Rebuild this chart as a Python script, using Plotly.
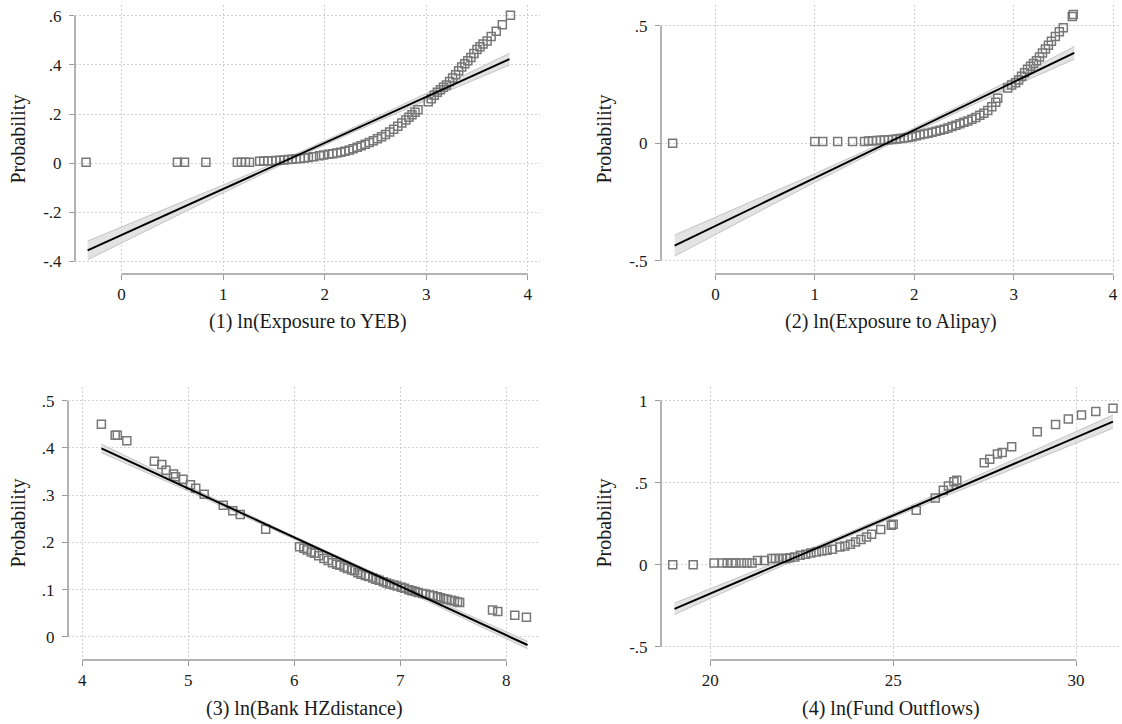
import plotly.graph_objects as go

W, H = 1122, 724

# ---------------- data ----------------
# Panel 1: ln(Exposure to YEB)
p1_x = [-0.35, 0.55, 0.62, 0.83, 1.14, 1.18, 1.22, 1.26, 1.36, 1.40, 1.44, 1.48, 1.52, 1.56, 1.60, 1.64,
        1.68, 1.72, 1.76, 1.80, 1.84, 1.89, 1.95, 1.99, 2.04, 2.08, 2.12, 2.16, 2.20, 2.24, 2.28, 2.32,
        2.36, 2.40, 2.44, 2.48, 2.52, 2.56, 2.60, 2.64, 2.68, 2.72, 2.76, 2.80, 2.83, 2.86, 2.89, 2.92,
        3.02, 3.05, 3.08, 3.11, 3.14, 3.17, 3.20, 3.23, 3.26, 3.29, 3.32, 3.35, 3.38, 3.41, 3.44, 3.47,
        3.50, 3.53, 3.56, 3.60, 3.64, 3.69, 3.75, 3.83]
p1_y = [0.004, 0.004, 0.004, 0.004, 0.004, 0.004, 0.004, 0.004, 0.008, 0.009, 0.010, 0.010, 0.011, 0.012,
        0.013, 0.015, 0.016, 0.018, 0.019, 0.021, 0.023, 0.026, 0.030, 0.033, 0.036, 0.038, 0.041, 0.044,
        0.048, 0.053, 0.059, 0.065, 0.071, 0.077, 0.084, 0.091, 0.099, 0.107, 0.117, 0.127, 0.138, 0.150,
        0.163, 0.176, 0.187, 0.197, 0.207, 0.217, 0.250, 0.262, 0.276, 0.288, 0.299, 0.309, 0.318, 0.332,
        0.346, 0.360, 0.376, 0.391, 0.404, 0.417, 0.430, 0.446, 0.462, 0.474, 0.485, 0.497, 0.515, 0.537,
        0.563, 0.602]
p1_fit_x = [-0.335, 3.82]
p1_fit_y = [-0.355, 0.423]
p1_ci_x = [-0.335, 0.5, 1.0, 1.7, 2.5, 3.2, 3.82]
p1_ci_lo = [-0.393, -0.223, -0.121, 0.018, 0.166, 0.291, 0.399]
p1_ci_hi = [-0.317, -0.175, -0.089, 0.034, 0.186, 0.323, 0.447]
p1_xticks = [0, 1, 2, 3, 4]
p1_yticks = [-0.4, -0.2, 0, 0.2, 0.4, 0.6]
p1_ylabels = ["-.4", "-.2", "0", ".2", ".4", ".6"]

# Panel 2: ln(Exposure to Alipay)
p2_x = [-0.43, 1.00, 1.08, 1.23, 1.38, 1.50, 1.54, 1.58, 1.62, 1.66, 1.70, 1.74, 1.78, 1.82, 1.86, 1.90,
        1.94, 1.98, 2.02, 2.06, 2.10, 2.14, 2.18, 2.22, 2.26, 2.30, 2.34, 2.38, 2.42, 2.46, 2.50, 2.54,
        2.58, 2.62, 2.66, 2.70, 2.74, 2.78, 2.82, 2.84, 2.94, 2.98, 3.02, 3.05, 3.08, 3.11, 3.14, 3.17,
        3.20, 3.23, 3.26, 3.29, 3.32, 3.35, 3.38, 3.42, 3.46, 3.50, 3.59, 3.60]
p2_y = [0.0, 0.007, 0.007, 0.007, 0.007, 0.008, 0.010, 0.011, 0.012, 0.013, 0.014, 0.015, 0.016, 0.018,
        0.020, 0.022, 0.025, 0.028, 0.032, 0.036, 0.039, 0.043, 0.047, 0.051, 0.055, 0.060, 0.065, 0.071,
        0.077, 0.083, 0.089, 0.095, 0.102, 0.110, 0.119, 0.128, 0.140, 0.155, 0.175, 0.192, 0.235, 0.248,
        0.258, 0.270, 0.285, 0.300, 0.315, 0.328, 0.340, 0.352, 0.368, 0.385, 0.402, 0.418, 0.435, 0.455,
        0.475, 0.492, 0.540, 0.548]
p2_fit_x = [-0.41, 3.61]
p2_fit_y = [-0.436, 0.385]
p2_ci_x = [-0.41, 0.5, 1.0, 1.8, 2.6, 3.2, 3.61]
p2_ci_lo = [-0.481, -0.278, -0.166, 0.006, 0.166, 0.281, 0.358]
p2_ci_hi = [-0.391, -0.222, -0.130, 0.024, 0.190, 0.321, 0.412]
p2_xticks = [0, 1, 2, 3, 4]
p2_yticks = [-0.5, 0, 0.5]
p2_ylabels = ["-.5", "0", ".5"]

# Panel 3: ln(Bank HZdistance)
p3_x = [4.18, 4.31, 4.33, 4.42, 4.68, 4.75, 4.79, 4.86, 4.88, 4.95, 5.02, 5.07, 5.15, 5.33, 5.42, 5.49,
        5.73, 6.05, 6.09, 6.12, 6.16, 6.19, 6.23, 6.28, 6.32, 6.36, 6.40, 6.43, 6.47, 6.50, 6.54, 6.57,
        6.60, 6.63, 6.67, 6.70, 6.74, 6.77, 6.80, 6.84, 6.87, 6.90, 6.94, 6.97, 7.01, 7.04, 7.08, 7.11,
        7.14, 7.17, 7.21, 7.24, 7.28, 7.31, 7.35, 7.38, 7.41, 7.44, 7.48, 7.51, 7.54, 7.56, 7.87, 7.92,
        8.08, 8.19]
p3_y = [0.450, 0.427, 0.427, 0.415, 0.372, 0.365, 0.353, 0.345, 0.339, 0.334, 0.322, 0.315, 0.302, 0.279,
        0.267, 0.259, 0.228, 0.191, 0.188, 0.184, 0.180, 0.177, 0.172, 0.166, 0.162, 0.157, 0.154, 0.152,
        0.148, 0.145, 0.142, 0.140, 0.136, 0.133, 0.130, 0.128, 0.125, 0.122, 0.120, 0.117, 0.114, 0.112,
        0.110, 0.108, 0.105, 0.103, 0.100, 0.098, 0.096, 0.094, 0.092, 0.091, 0.089, 0.087, 0.085, 0.083,
        0.081, 0.080, 0.078, 0.076, 0.074, 0.073, 0.057, 0.054, 0.046, 0.042]
p3_fit_x = [4.18, 8.20]
p3_fit_y = [0.399, -0.017]
p3_ci_x = [4.18, 5.0, 6.0, 7.0, 8.2]
p3_ci_lo = [0.390, 0.309, 0.207, 0.103, -0.025]
p3_ci_hi = [0.408, 0.319, 0.213, 0.111, -0.009]
p3_xticks = [4, 5, 6, 7, 8]
p3_yticks = [0, 0.1, 0.2, 0.3, 0.4, 0.5]
p3_ylabels = ["0", ".1", ".2", ".3", ".4", ".5"]

# Panel 4: ln(Fund Outflows)
p4_x = [18.97, 19.53, 20.10, 20.33, 20.46, 20.59, 20.70, 20.85, 21.00, 21.14, 21.29, 21.48, 21.68, 21.78,
        21.88, 21.97, 22.07, 22.17, 22.31, 22.46, 22.61, 22.75, 22.90, 23.05, 23.19, 23.34, 23.54, 23.68,
        23.83, 23.97, 24.12, 24.27, 24.41, 24.66, 24.95, 25.00, 25.63, 26.15, 26.37, 26.51, 26.66, 26.74,
        27.49, 27.64, 27.85, 27.98, 28.24, 28.94, 29.44, 29.79, 30.15, 30.54, 31.01]
p4_y = [0.0, 0.0, 0.010, 0.010, 0.010, 0.010, 0.010, 0.010, 0.010, 0.010, 0.026, 0.026, 0.037, 0.037,
        0.037, 0.037, 0.037, 0.043, 0.047, 0.057, 0.063, 0.071, 0.077, 0.084, 0.088, 0.094, 0.108, 0.114,
        0.124, 0.138, 0.153, 0.169, 0.185, 0.214, 0.240, 0.246, 0.332, 0.407, 0.454, 0.479, 0.505, 0.515,
        0.621, 0.642, 0.674, 0.684, 0.719, 0.811, 0.855, 0.888, 0.912, 0.933, 0.953]
p4_fit_x = [19.02, 31.01]
p4_fit_y = [-0.269, 0.872]
p4_ci_x = [19.02, 21.0, 23.0, 25.0, 27.0, 29.0, 31.01]
p4_ci_lo = [-0.304, -0.102, 0.098, 0.288, 0.470, 0.651, 0.832]
p4_ci_hi = [-0.234, -0.058, 0.122, 0.312, 0.510, 0.711, 0.912]
p4_xticks = [20, 25, 30]
p4_yticks = [-0.5, 0, 0.5, 1]
p4_ylabels = ["-.5", "0", ".5", "1"]

titles = ["(1) ln(Exposure to YEB)", "(2) ln(Exposure to Alipay)",
          "(3) ln(Bank HZdistance)", "(4) ln(Fund Outflows)"]

# ---------------- layout geometry (pixels) ----------------
panels = [
    dict(x=p1_x, y=p1_y, fx=p1_fit_x, fy=p1_fit_y, cx=p1_ci_x, lo=p1_ci_lo, hi=p1_ci_hi,
         xt=p1_xticks, yt=p1_yticks, yl=p1_ylabels, px=(75, 540, 5, 274),
         xr=[-0.459, 4.121], yr=[-0.451, 0.6435], ytitle_x=18),
    dict(x=p2_x, y=p2_y, fx=p2_fit_x, fy=p2_fit_y, cx=p2_ci_x, lo=p2_ci_lo, hi=p2_ci_hi,
         xt=p2_xticks, yt=p2_yticks, yl=p2_ylabels, px=(661, 1121, 5, 274),
         xr=[-0.547, 4.08], yr=[-0.557, 0.589], ytitle_x=604),
    dict(x=p3_x, y=p3_y, fx=p3_fit_x, fy=p3_fit_y, cx=p3_ci_x, lo=p3_ci_lo, hi=p3_ci_hi,
         xt=p3_xticks, yt=p3_yticks, yl=p3_ylabels, px=(68, 540, 387, 660),
         xr=[3.865, 8.318], yr=[-0.0487, 0.529], ytitle_x=18),
    dict(x=p4_x, y=p4_y, fx=p4_fit_x, fy=p4_fit_y, cx=p4_ci_x, lo=p4_ci_lo, hi=p4_ci_hi,
         xt=p4_xticks, yt=p4_yticks, yl=p4_ylabels, px=(661, 1121, 387, 660),
         xr=[18.65, 31.23], yr=[-0.581, 1.083], ytitle_x=604),
]

FONT = "Liberation Serif, Times New Roman, serif"
AXCOL = "#9a9a9a"
GRIDCOL = "#d2d2d2"
MARKCOL = "#777777"
TXTCOL = "#1a1a1a"

fig = go.Figure()
layout = dict(width=W, height=H, margin=dict(l=0, r=0, t=0, b=0),
              paper_bgcolor="white", plot_bgcolor="white", showlegend=False,
              font=dict(family=FONT, size=16, color=TXTCOL))
shapes = []
annotations = []

for i, p in enumerate(panels, start=1):
    xa = "x" if i == 1 else f"x{i}"
    ya = "y" if i == 1 else f"y{i}"
    l, r, t, b = p["px"]
    # CI band
    fig.add_trace(go.Scatter(x=p["cx"], y=p["lo"], mode="lines", xaxis=xa, yaxis=ya,
                             line=dict(color="#c4c4c4", width=1), hoverinfo="skip"))
    fig.add_trace(go.Scatter(x=p["cx"], y=p["hi"], mode="lines", xaxis=xa, yaxis=ya,
                             line=dict(color="#c4c4c4", width=1), fill="tonexty",
                             fillcolor="rgba(218,218,218,0.75)", hoverinfo="skip"))
    # markers
    fig.add_trace(go.Scatter(x=p["x"], y=p["y"], mode="markers", xaxis=xa, yaxis=ya,
                             marker=dict(symbol="square-open", size=8, color=MARKCOL,
                                         line=dict(width=1.5, color=MARKCOL))))
    # fitted line
    fig.add_trace(go.Scatter(x=p["fx"], y=p["fy"], mode="lines", xaxis=xa, yaxis=ya,
                             line=dict(color="black", width=2)))

    common = dict(showgrid=True, gridcolor=GRIDCOL, griddash="1.5px,2.5px", gridwidth=1,
                  zeroline=False, showline=False, ticks="outside", ticklen=5,
                  tickcolor=AXCOL, tickwidth=1, tickfont=dict(family=FONT, size=17, color=TXTCOL))
    layout["xaxis" if i == 1 else f"xaxis{i}"] = dict(
        domain=[l / W, r / W], range=p["xr"], anchor=ya, tickvals=p["xt"],
        ticktext=[str(v) for v in p["xt"]], **common)
    layout["yaxis" if i == 1 else f"yaxis{i}"] = dict(
        domain=[1 - b / H, 1 - t / H], range=p["yr"], anchor=xa, tickvals=p["yt"],
        ticktext=p["yl"], ticklabelstandoff=4, **common)

    # Stata-style detached axis lines spanning first..last tick
    shapes.append(dict(type="line", xref=xa, yref=f"{ya} domain",
                       x0=p["xt"][0], x1=p["xt"][-1], y0=0, y1=0,
                       line=dict(color=AXCOL, width=1.5)))
    shapes.append(dict(type="line", xref=f"{xa} domain", yref=ya,
                       x0=0, x1=0, y0=p["yt"][0], y1=p["yt"][-1],
                       line=dict(color=AXCOL, width=1.5)))

    # x title
    annotations.append(dict(text=titles[i - 1], xref="paper", yref="paper",
                            x=(l + r) / 2 / W, y=1 - (b + 48) / H, showarrow=False,
                            xanchor="center", yanchor="middle",
                            font=dict(family=FONT, size=20, color=TXTCOL)))
    # y title
    annotations.append(dict(text="Probability", xref="paper", yref="paper",
                            x=p["ytitle_x"] / W, y=1 - (t + b) / 2 / H, showarrow=False,
                            textangle=-90, xanchor="center", yanchor="middle",
                            font=dict(family=FONT, size=20, color=TXTCOL)))

layout["shapes"] = shapes
layout["annotations"] = annotations
fig.update_layout(**layout)
fig.write_html("out.html", config={"displayModeBar": False},
               post_script="document.body.style.margin='0';document.body.style.overflow='hidden';")
